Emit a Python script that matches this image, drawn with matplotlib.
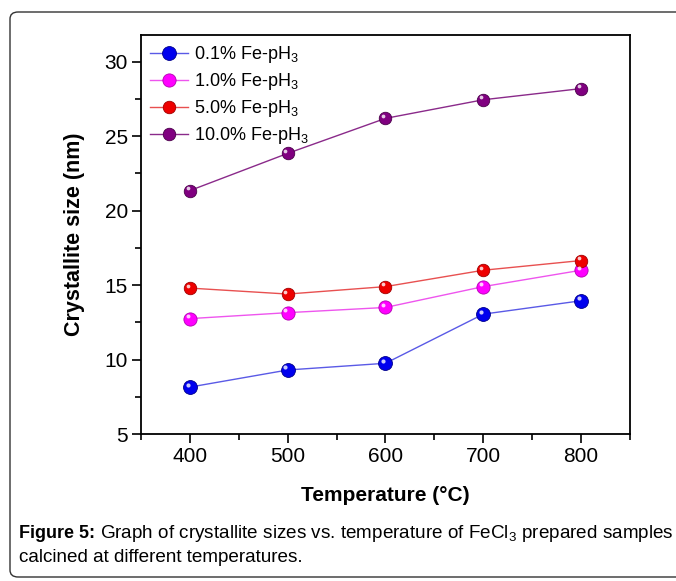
import matplotlib
matplotlib.use("Agg")
import matplotlib.pyplot as plt
from matplotlib.patches import FancyBboxPatch
from matplotlib.ticker import MultipleLocator
import matplotlib.transforms as mtransforms

plt.rcParams['font.family'] = ['Liberation Sans', 'DejaVu Sans']
plt.rcParams['mathtext.fontset'] = 'custom'
plt.rcParams['mathtext.rm'] = 'Liberation Sans'
plt.rcParams['mathtext.it'] = 'Liberation Sans:italic'
plt.rcParams['mathtext.bf'] = 'Liberation Sans:bold'

temperature = [400, 500, 600, 700, 800]
fe_01 = [8.15, 9.3, 9.75, 13.05, 13.95]
fe_10 = [12.75, 13.15, 13.5, 14.9, 16.0]
fe_50 = [14.8, 14.4, 14.9, 16.0, 16.65]
fe_100 = [21.35, 23.85, 26.2, 27.45, 28.2]

labels = ['0.1% Fe-pH$_3$', '1.0% Fe-pH$_3$', '5.0% Fe-pH$_3$', '10.0% Fe-pH$_3$']
line_colors = ['#5a5ae6', '#ee55ee', '#e85050', '#8a2a8a']
marker_colors = ['#0000ee', '#ff00ff', '#ee0000', '#800080']
edge_colors = ['#00008a', '#b000b0', '#a00000', '#4a004a']
sizes = [10, 9.5, 9, 9]

W, H = 676, 581
fig = plt.figure(figsize=(W / 100, H / 100), dpi=100)

# outer rounded frame
frame = FancyBboxPatch((10 / W, 4 / H), 700 / W, (H - 16) / H,
                       boxstyle="round,pad=0,rounding_size=0.012",
                       transform=fig.transFigure, fill=False,
                       edgecolor='#333333', linewidth=1.0)
fig.patches.append(frame)

ax = fig.add_axes([141 / W, 1 - 434 / H, (630 - 141) / W, (434 - 35) / H])

series = [fe_01, fe_10, fe_50, fe_100]
for ys, lab, lc, mc, ec, ms in zip(series, labels, line_colors, marker_colors, edge_colors, sizes):
    ax.plot(temperature, ys, '-', color=lc, linewidth=1.0, marker='o',
            markersize=ms, markerfacecolor=mc, markeredgecolor=ec,
            markeredgewidth=0.6, label=lab, zorder=3)
    off = mtransforms.ScaledTranslation(-1.6 / 72, 1.8 / 72, fig.dpi_scale_trans)
    ax.plot(temperature, ys, 'o', markersize=ms * 0.3, color='white', alpha=0.8,
            markeredgewidth=0, transform=ax.transData + off, zorder=4)

ax.set_xlim(350, 850)
ax.set_ylim(5, 31.8)
ax.xaxis.set_major_locator(MultipleLocator(100))
ax.xaxis.set_minor_locator(MultipleLocator(50))
ax.yaxis.set_major_locator(MultipleLocator(5))
ax.yaxis.set_minor_locator(MultipleLocator(2.5))
ax.tick_params(axis='both', which='major', direction='out', length=6.5, width=1.2,
               labelsize=15, pad=3, top=False, right=False)
ax.tick_params(axis='both', which='minor', direction='out', length=4, width=1.2,
               top=False, right=False)
for s in ax.spines.values():
    s.set_linewidth(1.3)

ax.set_xlabel('Temperature (°C)', fontsize=15, fontweight='bold', labelpad=14)
ax.set_ylabel('Crystallite size (nm)', fontsize=15.5, fontweight='bold', labelpad=14)

leg = ax.legend(loc='upper left', frameon=False, fontsize=13,
                handlelength=2.1, handletextpad=0.35, labelspacing=0.33,
                borderaxespad=0.0, borderpad=0.5)

# caption
fig.canvas.draw()
renderer = fig.canvas.get_renderer()
t1 = fig.text(19 / W, 1 - 534 / H, 'Figure 5:', fontsize=13, fontweight='bold', va='center')
bb = t1.get_window_extent(renderer=renderer)
fig.text((bb.x1 + 5) / W, 1 - 534 / H,
         'Graph of crystallite sizes vs. temperature of FeCl$_3$ prepared samples',
         fontsize=13.6, va='center')
fig.text(19 / W, 1 - 558 / H, 'calcined at different temperatures.', fontsize=13.6, va='center')

fig.savefig('out.png', dpi=100)
